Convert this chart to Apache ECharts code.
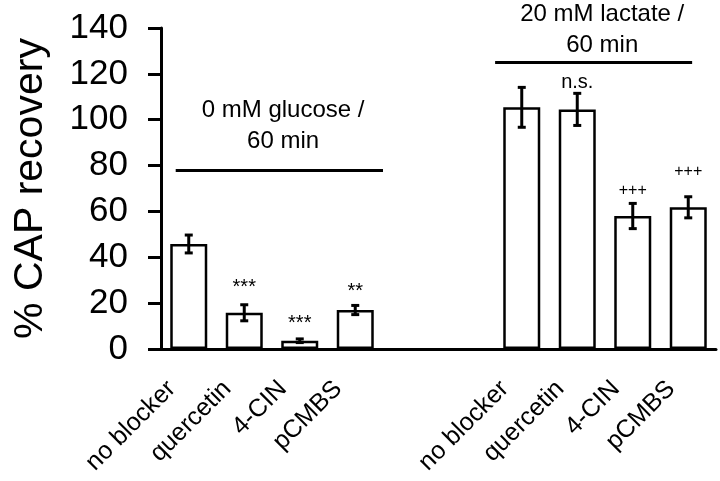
<!DOCTYPE html>
<html>
<head>
<meta charset="utf-8">
<title>CAP recovery</title>
<script src="https://cdn.jsdelivr.net/npm/echarts@6/dist/echarts.min.js"></script>
<style>
  html, body { margin: 0; padding: 0; background: #fff; }
  #box { width: 720px; height: 481px; }
</style>
</head>
<body>
<div id="box"></div>
<script>
// categories, two empty slots separate the two conditions
var cats = ['no blocker', 'quercetin', '4-CIN', 'pCMBS', '', '', 'no blocker', 'quercetin', '4-CIN', 'pCMBS'];
var recovery = [45.8, 15.8, 3.6, 17.0, null, null, 105.4, 104.5, 58.0, 61.8];
var errs = [3.9, 3.5, 0.8, 2.0, null, null, 8.7, 7.0, 5.5, 4.6];

// significance marks
var sigCat = [1, 2, 3, 7, 8, 9];
var sigY = [26.8, 11.1, 25.1, 116.4, 69.3, 77.2];
var sigText = ['***', '***', '**', 'n.s.', '+++', '+++'];

// condition brackets (x in category units)
var bracket1 = [[-0.235, 77.8], [3.5, 77.8]];
var bracket2 = [[5.52, 125.0], [9.07, 125.0]];
var condText = ['0 mM glucose /\n60 min', '20 mM lactate /\n60 min'];
var condPos = [[1.70, 97.3], [7.45, 139.1]];

var yTicks = [0, 20, 40, 60, 80, 100, 120, 140];

var font = 'Liberation Sans, Arial, Helvetica, sans-serif';
var chart = echarts.init(document.getElementById('box'));

var errData = [];
for (var i = 0; i < cats.length; i++) {
  if (recovery[i] != null) errData.push([i, recovery[i], errs[i]]);
}
var sigData = sigCat.map(function (c, k) {
  var fs = sigText[k] === '+++' ? 16 : 20;
  return { value: [c, sigY[k]], txt: sigText[k], label: { fontSize: fs } };
});
var condData = condPos.map(function (p, k) { return { value: p, txt: condText[k] }; });

chart.setOption({
  animation: false,
  grid: { left: 161, right: 4, top: 28, bottom: 132, outerBoundsMode: 'none', containLabel: false },
  xAxis: [{
    type: 'category',
    data: cats,
    axisLine: { lineStyle: { color: '#000', width: 3 } },
    axisTick: { show: false },
    axisLabel: {
      interval: 0, rotate: 45, color: '#000', fontFamily: font, fontSize: 25,
      margin: 19, padding: [0, 24, 0, 0]
    }
  }, {
    type: 'value', min: -0.5, max: 9.5, show: false
  }],
  yAxis: {
    type: 'value', min: 0, max: 140, interval: 20,
    name: '% CAP recovery', nameLocation: 'middle', nameGap: 110,
    nameTextStyle: { color: '#000', fontFamily: font, fontSize: 41 },
    axisLine: { show: true, onZero: false, lineStyle: { color: '#000', width: 3 } },
    axisTick: { show: true, inside: false, length: 13, lineStyle: { color: '#000', width: 3 } },
    splitLine: { show: false },
    axisLabel: {
      color: '#000', fontFamily: font, fontSize: 35, margin: 33,
      formatter: function (v) { return yTicks.indexOf(v) >= 0 ? String(v) : ''; }
    }
  },
  series: [{
    type: 'bar',
    data: recovery,
    barWidth: 37,
    itemStyle: { color: '#fff', borderColor: '#000', borderWidth: 2.5 }
  }, {
    type: 'custom',
    data: errData,
    z: 5,
    renderItem: function (params, api) {
      var x = api.value(0), v = api.value(1), e = api.value(2);
      var top = api.coord([x, v + e]);
      var bot = api.coord([x, v - e]);
      var cap = 4;
      var st = { stroke: '#000', lineWidth: 3 };
      return {
        type: 'group',
        children: [
          { type: 'line', shape: { x1: top[0], y1: top[1], x2: bot[0], y2: bot[1] }, style: st },
          { type: 'line', shape: { x1: top[0] - cap, y1: top[1], x2: top[0] + cap, y2: top[1] }, style: st },
          { type: 'line', shape: { x1: bot[0] - cap, y1: bot[1], x2: bot[0] + cap, y2: bot[1] }, style: st }
        ]
      };
    }
  }, {
    type: 'scatter',
    data: sigData,
    symbolSize: 0,
    itemStyle: { color: '#000', opacity: 1 },
    label: {
      show: true, position: 'inside', color: '#000', fontFamily: font,
      formatter: function (p) { return p.data.txt; }
    },
    emphasis: { disabled: true },
    z: 6
  }, {
    type: 'line', xAxisIndex: 1, data: bracket1, symbol: 'none',
    lineStyle: { color: '#000', width: 3 }
  }, {
    type: 'line', xAxisIndex: 1, data: bracket2, symbol: 'none',
    lineStyle: { color: '#000', width: 3 }
  }, {
    type: 'scatter', xAxisIndex: 1, data: condData, symbolSize: 0,
    itemStyle: { color: '#000', opacity: 1 },
    emphasis: { disabled: true },
    label: {
      show: true, position: 'inside', color: '#000', fontFamily: font, fontSize: 24,
      lineHeight: 31, align: 'center',
      formatter: function (p) { return p.data.txt; }
    }
  }]
});
</script>
</body>
</html>
